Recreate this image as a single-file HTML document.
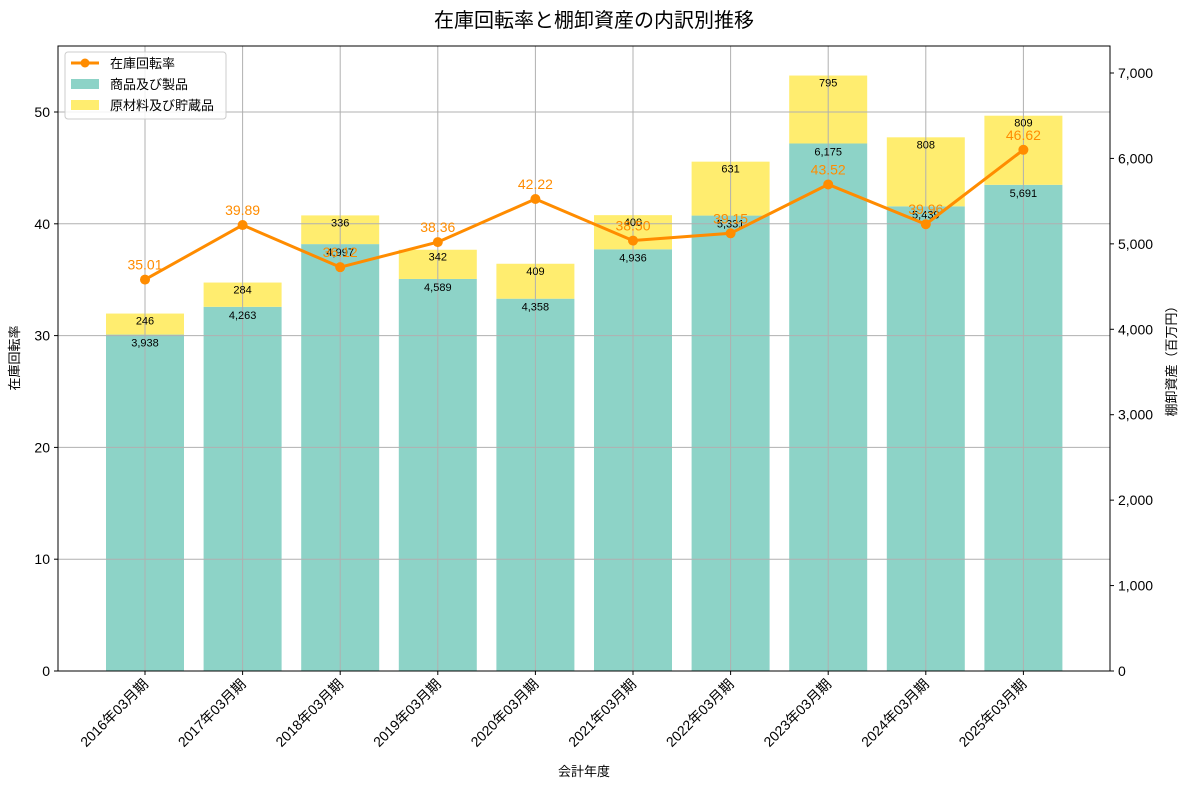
<!DOCTYPE html>
<html><head><meta charset="utf-8"><style>
body{margin:0;background:#fff;font-family:"Liberation Sans","Noto Sans CJK JP",sans-serif}
</style></head><body>
<svg id="c" width="1189" height="789" xmlns="http://www.w3.org/2000/svg" font-family="Liberation Sans, Noto Sans CJK JP, sans-serif"></svg>
<script>
const categories=["2016年03月期","2017年03月期","2018年03月期","2019年03月期","2020年03月期","2021年03月期","2022年03月期","2023年03月期","2024年03月期","2025年03月期"];
const goods=[3938,4263,4997,4589,4358,4936,5331,6175,5439,5691];
const materials=[246,284,336,342,409,400,631,795,808,809];
const turnover=[35.01,39.89,36.12,38.36,42.22,38.50,39.15,43.52,39.96,46.62];
const leftTicks=[0,10,20,30,40,50];
const rightTicks=[0,1000,2000,3000,4000,5000,6000,7000];
const L=58,R=1110,T=46,B=671;
const yL=v=>B-v*11.18, yR=v=>B-v*0.08543;
const step=(R-L)/10.78, x=i=>145+i*97.6, bw=78;
const s=document.getElementById('c');const NS="http://www.w3.org/2000/svg";
function el(t,a,txt){const e=document.createElementNS(NS,t);for(const k in a)e.setAttribute(k,a[k]);if(txt!=null)e.textContent=txt;s.appendChild(e);return e;}
const fmt=v=>v.toLocaleString('en-US');
// bars
goods.forEach((g,i)=>{
 let r=el('rect',{x:x(i)-bw/2,y:yR(g),width:bw,height:B-yR(g),fill:'#8dd3c7'});
 
 
 let r2=el('rect',{x:x(i)-bw/2,y:yR(g+materials[i]),width:bw,height:yR(g)-yR(g+materials[i]),fill:'#ffed6f'});
 
 
});
// grid
leftTicks.forEach(v=>{let l=el('line',{x1:L,x2:R,y1:yL(v),y2:yL(v),stroke:'#b0b0b0','stroke-width':1});});
categories.forEach((c,i)=>{let l=el('line',{x1:x(i),x2:x(i),y1:T,y2:B,stroke:'#b0b0b0','stroke-width':1});});
// bar labels
goods.forEach((g,i)=>{
 let t=el('text',{x:x(i),y:yR(g)+12,'text-anchor':'middle','font-size':11},fmt(g));
 
 let t2=el('text',{x:x(i),y:yR(g+materials[i])+11,'text-anchor':'middle','font-size':11},fmt(materials[i]));
 
});
// line
let p=el('polyline',{points:turnover.map((v,i)=>x(i)+','+yL(v)).join(' '),fill:'none',stroke:'#ff8c00','stroke-width':3});

turnover.forEach((v,i)=>{
 let c=el('circle',{cx:x(i),cy:yL(v),r:5,fill:'#ff8c00'});
 
 let t=el('text',{x:x(i),y:yL(v)-10,'text-anchor':'middle','font-size':14,fill:'#ff8c00'},v.toFixed(2));
 
});
// frame
el('rect',{x:L,y:T,width:R-L,height:B-T,fill:'none',stroke:'#000','stroke-width':1});
leftTicks.forEach(v=>{el('line',{x1:L-4,x2:L,y1:yL(v),y2:yL(v),stroke:'#000'});let t=el('text',{x:L-8,y:yL(v)+5,'text-anchor':'end','font-size':14},v);});
rightTicks.forEach(v=>{el('line',{x1:R,x2:R+4,y1:yR(v),y2:yR(v),stroke:'#000'});let t=el('text',{x:R+8,y:yR(v)+5,'font-size':14},fmt(v));});
categories.forEach((c,i)=>{el('line',{x1:x(i),x2:x(i),y1:B,y2:B+4,stroke:'#000'});let t=el('text',{x:x(i)+4,y:B+14,'text-anchor':'end','font-size':14,transform:`rotate(-45 ${x(i)+4} ${B+14})`},c);});
let tt=el('text',{x:594,y:27,'text-anchor':'middle','font-size':20},'在庫回転率と棚卸資産の内訳別推移');
let xt=el('text',{x:584,y:776,'text-anchor':'middle','font-size':13},'会計年度');
let yt=el('text',{x:19,y:358,'text-anchor':'middle','font-size':13,transform:'rotate(-90 19 358)'},'在庫回転率');
let yt2=el('text',{x:1176,y:358,'text-anchor':'middle','font-size':13,transform:'rotate(-90 1176 358)'},'棚卸資産（百万円）');
// legend
let lg=el('rect',{x:65,y:52,width:161,height:67,rx:3,fill:'#fff','fill-opacity':0.85,stroke:'#ccc'});
el('line',{x1:71,x2:99,y1:63,y2:63,stroke:'#ff8c00','stroke-width':3});el('circle',{cx:85,cy:63,r:4.5,fill:'#ff8c00'});
el('rect',{x:71,y:79,width:28,height:10,fill:'#8dd3c7'});
el('rect',{x:71,y:100,width:28,height:10,fill:'#ffed6f'});
[['在庫回転率',68],['商品及び製品',89],['原材料及び貯蔵品',110]].forEach(a=>{let t=el('text',{x:110,y:a[1],'font-size':13},a[0]);});
</script>
</body></html>
